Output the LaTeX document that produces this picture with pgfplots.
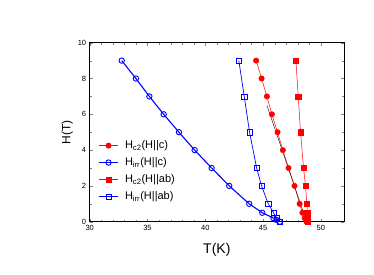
\documentclass[border=0pt]{standalone}
\usepackage{pgfplots}
\pgfplotsset{compat=1.18}
\usepackage{fontspec}
\setmainfont{Liberation Sans}
\begin{document}
\begin{tikzpicture}
\begin{axis}[name=ax,
  scale only axis, width=254.3pt, height=179pt,
  xmin=30, xmax=52, ymin=0, ymax=10,
  xtick={30,35,40,45,50}, ytick={0,2,4,6,8,10},
  minor x tick num=4, minor y tick num=1,
  tick align=inside, xtick pos=both, ytick pos=both,
  major tick length=3pt, minor tick length=1.8pt,
  /pgf/number format/assume math mode=true,
  tick label style={font=\fontsize{7.5}{8}\selectfont},
  xlabel={T(K)}, ylabel={H(T)},
  xlabel style={font=\fontsize{14}{16}\selectfont, yshift=-6pt},
  ylabel style={font=\fontsize{12}{14}\selectfont, yshift=-2pt},
  legend style={at={(0.02,0.475)}, anchor=north west, draw=none, fill=none,
    font=\fontsize{11}{12}\selectfont, row sep=3.5pt,
    /tikz/every odd column/.append style={column sep=4pt}},
  legend cell align=left,
  legend image code/.code={\draw[mark repeat=2,mark phase=2] plot coordinates {(0cm,0cm) (0.35cm,0cm) (0.7cm,0cm)};},
  axis line style={line width=0.6pt},
]
% Hc2 H||c
\addplot[red, line width=0.5pt, mark=*, mark size=2.7pt, mark options={draw=red, fill=red}] coordinates {
(44.4,9) (44.87,8) (45.33,7) (45.76,6) (46.25,5) (46.71,4) (47.2,3) (47.72,2) (48.16,1) (48.4,0.5) (48.6,0.2) (48.76,0)};
\addlegendentry{H$_{\mathrm{c2}}$(H||c)}
% Hirr H||c
\addplot[blue, line width=1.1pt, mark=o, mark size=2.7pt, mark options={draw=blue, fill=white, line width=0.9pt}] coordinates {
(32.77,9) (34.0,8) (35.16,7) (36.4,6) (37.72,5) (39.08,4) (40.55,3) (42.07,2) (43.8,1) (44.93,0.5) (45.9,0.2) (46.17,0.1) (46.45,0)};
\addlegendentry{H$_{\mathrm{irr}}$(H||c)}
% Hc2 H||ab
\addplot[red, line width=0.5pt, mark=square*, mark size=2.6pt, mark options={draw=red, fill=red}] coordinates {
(47.84,9) (48.04,7) (48.24,5) (48.5,3) (48.67,2) (48.79,1) (48.82,0.5) (48.85,0.2) (48.85,0)};
\addlegendentry{H$_{\mathrm{c2}}$(H||ab)}
% Hirr H||ab
\addplot[blue, line width=0.7pt, mark=square, mark size=2.6pt, mark options={draw=blue, fill=white, line width=0.6pt}] coordinates {
(42.9,9) (43.37,7) (43.83,5) (44.44,3) (44.87,2) (45.45,1) (45.9,0.5) (46.17,0.2) (46.45,0)};
\addlegendentry{H$_{\mathrm{irr}}$(H||ab)}
% linear fit
\addplot[black, line width=0.4pt, forget plot] coordinates {(45.33,6.5) (48.76,0)};
\end{axis}
\useasboundingbox ([shift={(-89.7pt,-52.3pt)}]ax.south west) rectangle ([shift={(30pt,42.7pt)}]ax.north east);
\end{tikzpicture}
\end{document}
